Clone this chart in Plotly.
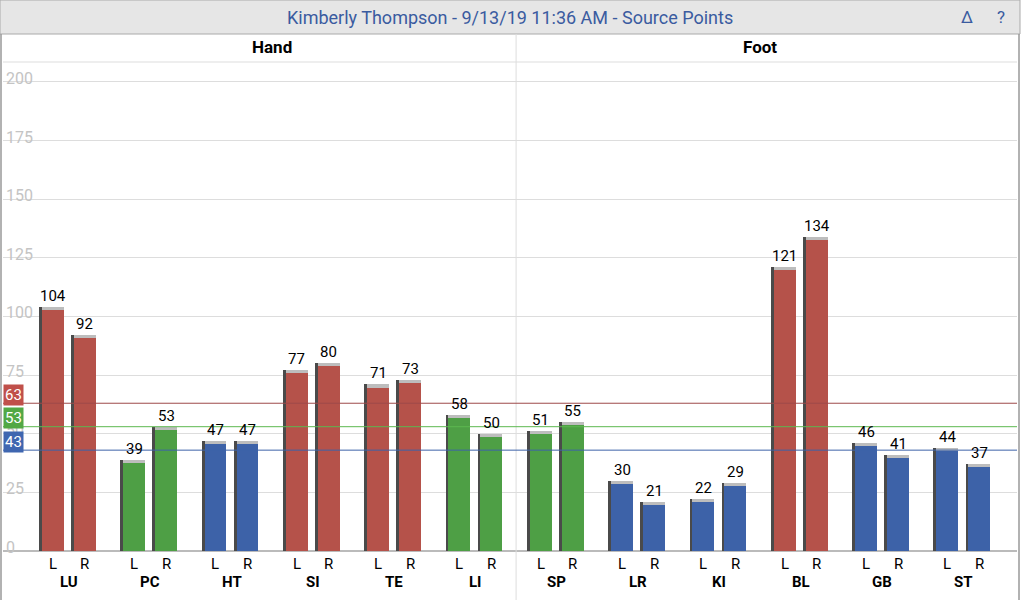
import plotly.graph_objects as go

groups = ["LU","PC","HT","SI","TE","LI","SP","LR","KI","BL","GB","ST"]
left_vals = [104,39,47,77,71,58,51,30,22,121,46,44]
right_vals = [92,53,47,80,73,50,55,21,29,134,41,37]
group_colors = ["red","green","blue","red","red","green","green","blue","blue","red","blue","blue"]
ref_values = [63,53,43]
ref_colors = ["red","green","blue"]
yticks = [0,25,50,75,100,125,150,175,200]

pal = {"red":"#B5524A","green":"#4E9F45","blue":"#3D62A8"}
line_pal = {"red":"#9E4A4A","green":"#5DB84F","blue":"#3D62A8"}
box_pal = {"red":"#C0504A","green":"#52A845","blue":"#3F66B0"}

PH = 489.0
PW = 1014.0
def py(px_from_top):
    return 1 + (62 - px_from_top) / PH
def px(xpix):
    return (xpix - 3) / PW

off = 0.197
w = 0.27
xs, vals, cols = [], [], []
for i,(l,r,c) in enumerate(zip(left_vals,right_vals,group_colors)):
    xs += [i-off, i+off]; vals += [l,r]; cols += [pal[c],pal[c]]

fig = go.Figure()
fig.add_bar(x=[x-0.035 for x in xs], y=vals, width=w, marker_color="#4a4a4a", marker_line_width=0, hoverinfo="skip")
fig.add_bar(x=xs, y=vals, width=w, marker_color=cols, marker_line_width=0)
fig.add_bar(x=xs, y=[1.3]*len(vals), base=[v-1.3 for v in vals], width=w, marker_color="#bdbdbd", marker_line_width=0, hoverinfo="skip")

ann = []
shapes = [
    dict(type="rect", xref="paper", yref="paper", x0=px(0), x1=px(1020), y0=py(34), y1=py(0), fillcolor="#e6e6e6", line=dict(color="#aaaaaa", width=1)),
    dict(type="line", xref="paper", yref="paper", x0=0, x1=1, y0=1, y1=1, line=dict(color="#dddddd", width=1)),
    dict(type="line", xref="x", yref="paper", x0=5.5, x1=5.5, y0=py(600), y1=py(34), line=dict(color="#dddddd", width=1)),
    dict(type="line", xref="paper", yref="paper", x0=px(1), x1=px(1), y0=py(600), y1=py(34), line=dict(color="#999999", width=1.5)),
    dict(type="line", xref="paper", yref="paper", x0=px(1019), x1=px(1019), y0=py(600), y1=py(34), line=dict(color="#999999", width=1.5)),
]
for rv, rc in zip(ref_values, ref_colors):
    shapes.append(dict(type="line", xref="paper", yref="y", x0=0, x1=1, y0=rv, y1=rv, line=dict(color=line_pal[rc], width=1)))

for t in yticks:
    ann.append(dict(x=0, xref="paper", y=t, text=str(t), showarrow=False, xanchor="left", yanchor="bottom",
                    xshift=1, yshift=-8, font=dict(size=16, color="#c4c4c4", family="Roboto")))
for rv, rc in zip(ref_values, ref_colors):
    ann.append(dict(x=0, xref="paper", y=rv+3.5, yref="y", text=str(rv), showarrow=False,
                    xanchor="left", bgcolor=box_pal[rc], font=dict(color="white", size=15, family="Roboto"),
                    borderpad=1))
for x, v in zip(xs, vals):
    ann.append(dict(x=x, y=v, text=str(v), showarrow=False, yanchor="bottom",
                    font=dict(size=15, color="black", family="Roboto")))
for i, g in enumerate(groups):
    ann.append(dict(x=i-off, y=0, yref="paper", text="L", showarrow=False, yanchor="top", yshift=-2,
                    font=dict(size=15, color="black", family="Roboto")))
    ann.append(dict(x=i+off, y=0, yref="paper", text="R", showarrow=False, yanchor="top", yshift=-2,
                    font=dict(size=15, color="black", family="Roboto")))
    ann.append(dict(x=i, y=0, yref="paper", text="<b>"+g+"</b>", showarrow=False, yanchor="top", yshift=-20,
                    font=dict(size=15, color="black", family="Roboto")))
ann.append(dict(x=0.5, xref="paper", y=py(17), yref="paper", text="Kimberly Thompson - 9/13/19 11:36 AM - Source Points",
                showarrow=False, yanchor="middle", xanchor="center", font=dict(size=18, color="#3A5BA0", family="Roboto")))
ann.append(dict(x=2.5, y=1, yref="paper", text="<b>Hand</b>", showarrow=False, yanchor="bottom", yshift=3,
                font=dict(size=17, color="black", family="Roboto")))
ann.append(dict(x=8.5, y=1, yref="paper", text="<b>Foot</b>", showarrow=False, yanchor="bottom", yshift=3,
                font=dict(size=17, color="black", family="Roboto")))
ann.append(dict(x=px(967), xref="paper", y=py(17), yref="paper", text="Δ", showarrow=False,
                yanchor="middle", xanchor="center", font=dict(size=17, color="#3A5BA0", family="Roboto")))
ann.append(dict(x=px(1001), xref="paper", y=py(17), yref="paper", text="?", showarrow=False,
                yanchor="middle", xanchor="center", font=dict(size=17, color="#3A5BA0", family="Roboto")))
for a in ann:
    a.setdefault("xref", "x")
    a.setdefault("yref", "y")

fig.update_layout(
    width=1024, height=600, barmode="overlay", showlegend=False,
    margin=dict(l=3, r=7, t=62, b=49, autoexpand=False),
    plot_bgcolor="white", paper_bgcolor="white",
    xaxis=dict(range=[-0.81, 11.66], showticklabels=False, showgrid=False, zeroline=False),
    yaxis=dict(range=[0, 208.5], tickvals=yticks, showticklabels=False, gridcolor="#dddddd", zeroline=True,
               zerolinecolor="#bbbbbb"),
    bargap=0,
)
fig.layout.annotations = ann
fig.layout.shapes = shapes
fig.write_html("out.html", config={"displayModeBar": False},
               post_script="document.body.style.margin='0';document.body.style.overflow='hidden';")
